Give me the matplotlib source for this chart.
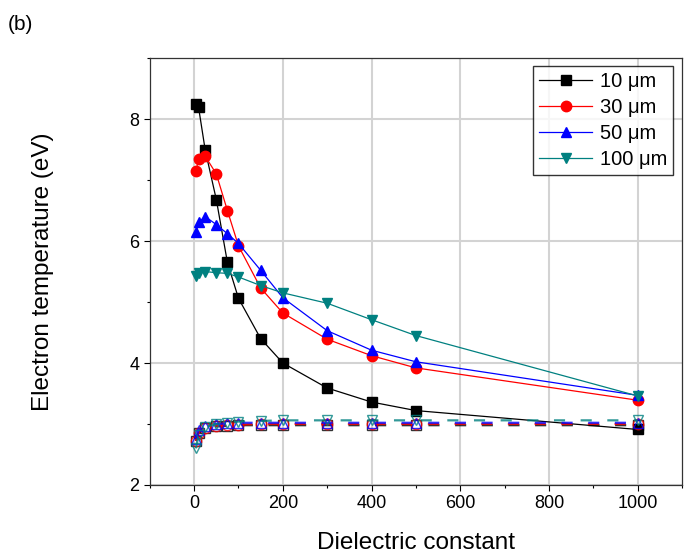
import matplotlib
matplotlib.use("Agg")
import matplotlib.pyplot as plt
from matplotlib.ticker import MultipleLocator

plt.rcParams['font.family'] = ['Liberation Sans', 'DejaVu Sans']

# dielectric constant values
eps = [4, 10, 25, 50, 75, 100, 150, 200, 300, 400, 500, 1000]

# filled symbols (upper curves)
te_10 = [8.24, 8.19, 7.49, 6.68, 5.65, 5.06, 4.40, 4.00, 3.59, 3.36, 3.22, 2.91]
te_30 = [7.15, 7.34, 7.39, 7.10, 6.50, 5.92, 5.23, 4.82, 4.39, 4.12, 3.92, 3.39]
te_50 = [6.14, 6.31, 6.40, 6.27, 6.12, 5.96, 5.52, 5.07, 4.53, 4.21, 4.02, 3.47]
te_100 = [5.43, 5.48, 5.50, 5.48, 5.47, 5.41, 5.27, 5.15, 4.98, 4.71, 4.45, 3.46]

# open symbols (lower curves)
lo_10 = [2.72, 2.85, 2.93, 2.96, 2.97, 2.98, 2.98, 2.98, 2.98, 2.98, 2.98, 2.98]
lo_30 = [2.72, 2.86, 2.94, 2.97, 2.98, 2.99, 3.00, 3.00, 3.00, 3.00, 3.00, 3.00]
lo_50 = [2.76, 2.90, 2.97, 3.00, 3.01, 3.02, 3.02, 3.02, 3.02, 3.02, 3.02, 3.02]
lo_100 = [2.60, 2.82, 2.95, 3.00, 3.02, 3.04, 3.05, 3.06, 3.06, 3.06, 3.06, 3.06]

labels = ['10 \u03bcm', '30 \u03bcm', '50 \u03bcm', '100 \u03bcm']
colors = ['black', 'red', 'blue', '#008080']
markers = ['s', 'o', '^', 'v']

fig = plt.figure(figsize=(6.84, 5.53), dpi=100)
ax = fig.add_axes([0.219, 0.123, 0.778, 0.772])

upper = [te_10, te_30, te_50, te_100]
lower = [lo_10, lo_30, lo_50, lo_100]

for ys, c, m, lab in zip(upper, colors, markers, labels):
    ax.plot(eps, ys, color=c, marker=m, markersize=7.5, linewidth=0.9,
            markeredgecolor=c, markerfacecolor=c, label=lab, zorder=3)

for ys, c, m in zip(lower, colors, markers):
    ax.plot(eps, ys, color=c, marker=m, markersize=7.5, linewidth=1.6,
            linestyle=(0, (5, 7)), markerfacecolor='none', markeredgecolor=c,
            markeredgewidth=1.0, alpha=0.8, zorder=3)

ax.set_xlim(-100, 1100)
ax.set_ylim(2, 9)
ax.xaxis.set_major_locator(MultipleLocator(200))
ax.xaxis.set_minor_locator(MultipleLocator(100))
ax.yaxis.set_major_locator(MultipleLocator(2))
ax.yaxis.set_minor_locator(MultipleLocator(1))
ax.tick_params(which='major', direction='out', length=4, width=0.8, labelsize=13)
ax.tick_params(which='minor', direction='out', length=2.5, width=0.8)
ax.grid(True, which='major', color='#d3d3d3', linewidth=1.5, zorder=0)
ax.set_axisbelow(True)
for s in ax.spines.values():
    s.set_linewidth(0.9)
    s.set_color('#333333')

ax.set_xlabel('Dielectric constant', fontsize=17.5, labelpad=14)
ax.set_ylabel('Electron temperature (eV)', fontsize=17.5, labelpad=54)

leg = ax.legend(loc='upper right', fontsize=14.5, frameon=True, fancybox=False,
                edgecolor='black', handlelength=2.6, handletextpad=0.4,
                borderpad=0.3, labelspacing=0.35, borderaxespad=0.3,
                bbox_to_anchor=(0.995, 0.995))
leg.get_frame().set_linewidth(1.0)

fig.text(0.012, 0.945, '(b)', fontsize=15)

fig.savefig('out.png', dpi=100)
